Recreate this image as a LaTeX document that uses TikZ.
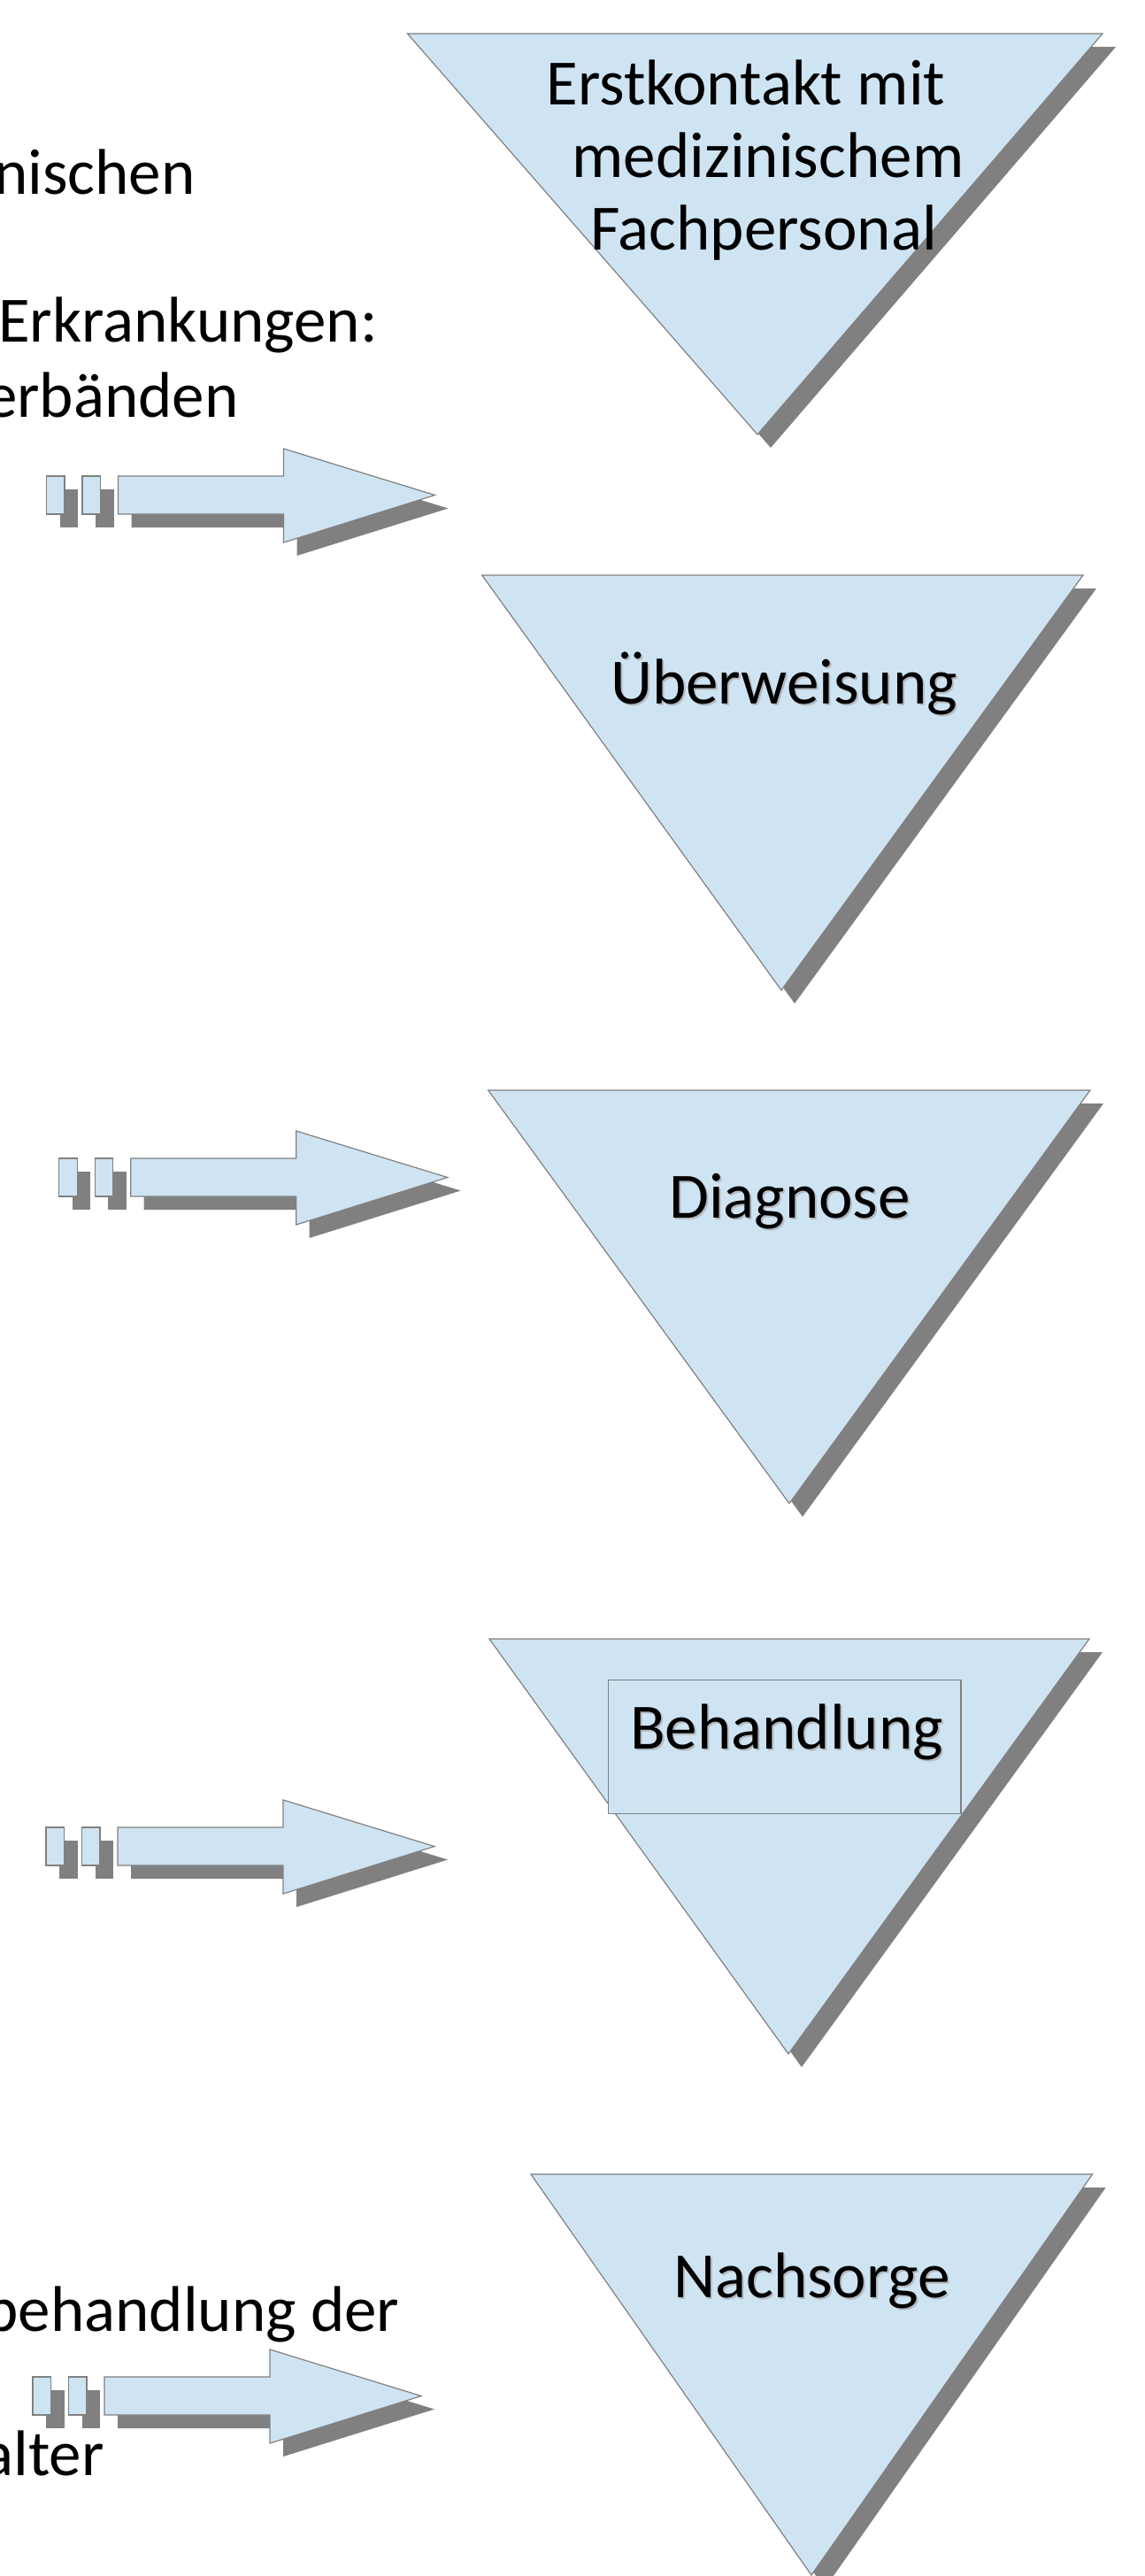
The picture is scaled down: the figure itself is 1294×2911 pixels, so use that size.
\documentclass[tikz,border=0pt]{standalone}
\usepackage{fontspec}
\setmainfont{Carlito}
\usetikzlibrary{calc}
\definecolor{boxblue}{RGB}{207,228,243}
\definecolor{edgegray}{RGB}{128,128,128}
\definecolor{dropgray}{RGB}{128,128,128}
\definecolor{txtshadow}{RGB}{180,186,192}
\begin{document}
\begin{tikzpicture}[x=0.5pt,y=-0.5pt,
  fillshape/.style={fill=boxblue,draw=edgegray,line width=0.6pt,line join=miter},
  dropshadow/.style={fill=dropgray},
  lbl/.style={inner sep=0pt,anchor=base,font=\fontsize{36.5}{44}\selectfont},
  lblshadow/.style={lbl,text=txtshadow},
  sidetext/.style={inner sep=0pt,anchor=base east,font=\fontsize{36.5}{44}\selectfont},
  pics/fatarrow/.style={code={
    \begin{scope}[shift={(15,15)}]
      \fill[dropshadow] (0,0) rectangle (20.5,43);
      \fill[dropshadow] (40.5,0) rectangle (61,43);
      \fill[dropshadow] (81,0) -- (268,0) -- (268,-31) -- (439,21.5) -- (268,75) -- (268,43) -- (81,43) -- cycle;
    \end{scope}
    \draw[fillshape] (0,0) rectangle (20.5,43);
    \draw[fillshape] (40.5,0) rectangle (61,43);
    \draw[fillshape] (81,0) -- (268,0) -- (268,-31) -- (439,21.5) -- (268,75) -- (268,43) -- (81,43) -- cycle;
  }}
]
\useasboundingbox (0,0) rectangle (1294,2911);

% ---------- triangles with drop shadows ----------
\coordinate (t1a) at (460.5,38);  \coordinate (t1b) at (1246,38);   \coordinate (t1c) at (856,491);
\coordinate (t2a) at (544.7,650); \coordinate (t2b) at (1224,650);  \coordinate (t2c) at (883,1119);
\coordinate (t3a) at (551.7,1232);\coordinate (t3b) at (1232,1232); \coordinate (t3c) at (892,1699);
\coordinate (t4a) at (553,1852);  \coordinate (t4b) at (1231,1852); \coordinate (t4c) at (891,2321);
\coordinate (t5a) at (600,2457);  \coordinate (t5b) at (1234.6,2457); \coordinate (t5c) at (917,2910);
\coordinate (off) at (15,15);
\coordinate (org) at (0,0);

\foreach \t in {t1,t2,t3,t4,t5}{
  \fill[dropshadow] ($(\t a)+(off)-(org)$) -- ($(\t b)+(off)-(org)$) -- ($(\t c)+(off)-(org)$) -- cycle;
  \draw[fillshape] (\t a) -- (\t b) -- (\t c) -- cycle;
}

% Behandlung box
\draw[fillshape] (687.5,1898.5) rectangle (1086,2049.5);

% ---------- arrows ----------
\pic at (52.5,538) {fatarrow};
\pic at (66.7,1309) {fatarrow};
\pic at (52,2065) {fatarrow};
\pic at (37,2686) {fatarrow};

% ---------- triangle labels ----------
\node[lbl] (erst1) at (843,119) {Erstkontakt mit};
\node[lbl] (erst2) at (868,201) {medizinischem};
\node[lbl] (erst3) at (863,283) {Fachpersonal};

\node[lblshadow] (uebs) at (888,797) {Überweisung};
\node[lbl] (ueb) at (886,795) {Überweisung};

\node[lblshadow] (diags) at (894.5,1378) {Diagnose};
\node[lbl] (diag) at (892.5,1376) {Diagnose};

\node[lblshadow] (behs) at (891,1978) {Behandlung};
\node[lbl] (beh) at (889,1976) {Behandlung};

\node[lblshadow] (nachs) at (919.5,2598) {Nachsorge};
\node[lbl] (nach) at (917.5,2596) {Nachsorge};

% ---------- left side texts (cut at the left edge) ----------
\node[sidetext] (l1) at (221,220) {nischen};
\node[sidetext] (l2) at (427,386) {Erkrankungen:};
\node[sidetext] (l3) at (270,471) {erbänden};
\node[sidetext] (l4) at (452,2634) {behandlung der};
\node[sidetext] (l5) at (118,2797) {alter};
\end{tikzpicture}
\end{document}
